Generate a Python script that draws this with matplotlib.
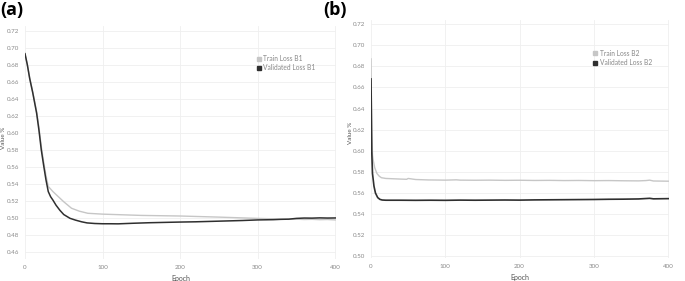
import matplotlib
matplotlib.use("Agg")
import matplotlib.pyplot as plt
from matplotlib.lines import Line2D

# ---- Panel (a) data ----
a_val_epoch = [0, 3, 6, 10, 15, 18, 21, 24, 27, 30, 33, 36, 40, 45, 50, 58, 65, 73, 80, 90,
               100, 110, 120, 140, 160, 180, 200, 220, 240, 260, 280, 300, 320, 330, 340,
               350, 360, 370, 380, 390, 400]
a_val_loss = [0.693, 0.680, 0.664, 0.647, 0.623, 0.603, 0.580, 0.562, 0.545, 0.531, 0.525,
              0.521, 0.515, 0.509, 0.504, 0.4996, 0.4975, 0.4955, 0.4942, 0.4935,
              0.4932, 0.4932, 0.4931, 0.4938, 0.4944, 0.4948, 0.4952, 0.4955, 0.4960,
              0.4965, 0.4970, 0.4977, 0.4980, 0.4984, 0.4986, 0.4995, 0.4999, 0.4998,
              0.5001, 0.4999, 0.5000]
a_train_epoch = [0, 3, 6, 10, 15, 18, 21, 24, 27, 30, 36, 43, 50, 60, 70, 81, 100, 150,
                 200, 250, 300, 320, 330, 340, 350, 360, 370, 380, 390, 400]
a_train_loss = [0.692, 0.680, 0.665, 0.648, 0.625, 0.606, 0.584, 0.566, 0.550, 0.537,
                0.531, 0.525, 0.519, 0.5114, 0.508, 0.5055, 0.5045, 0.5030, 0.5023,
                0.5010, 0.4995, 0.4990, 0.4986, 0.4984, 0.4986, 0.4982, 0.4984, 0.4980,
                0.4982, 0.4977]

# ---- Panel (b) data ----
b_train_epoch = [0, 1, 2, 3, 5, 8, 11, 14, 20, 30, 40, 48, 50, 60, 77, 90, 100, 115, 120,
                 140, 160, 180, 200, 220, 240, 260, 280, 300, 320, 340, 360, 370, 375,
                 380, 390, 400]
b_train_loss = [0.687, 0.620, 0.596, 0.591, 0.584, 0.5785, 0.576, 0.5745, 0.5738, 0.5735,
                0.5732, 0.5730, 0.5738, 0.5728, 0.5724, 0.5723, 0.5722, 0.5725, 0.5722,
                0.5721, 0.5722, 0.5720, 0.5721, 0.5719, 0.5720, 0.5718, 0.5719, 0.5717,
                0.5718, 0.5716, 0.5715, 0.5718, 0.5722, 0.5714, 0.5713, 0.5712]
b_val_epoch = [0, 1, 2, 4, 6, 9, 12, 15, 20, 40, 60, 80, 100, 120, 140, 160, 180, 200,
               220, 240, 260, 280, 300, 320, 340, 360, 375, 380, 400]
b_val_loss = [0.668, 0.600, 0.5785, 0.5665, 0.560, 0.5557, 0.554, 0.5534, 0.5532,
              0.5532, 0.5531, 0.5532, 0.5531, 0.5533, 0.5532, 0.5533, 0.5534, 0.5533,
              0.5535, 0.5536, 0.5537, 0.5538, 0.5539, 0.5541, 0.5542, 0.5544, 0.5550,
              0.5545, 0.5547]

a_yticks = [0.46, 0.48, 0.50, 0.52, 0.54, 0.56, 0.58, 0.60, 0.62, 0.64, 0.66, 0.68, 0.70, 0.72]
b_yticks = [0.50, 0.52, 0.54, 0.56, 0.58, 0.60, 0.62, 0.64, 0.66, 0.68, 0.70, 0.72]
x_ticks = [0, 100, 200, 300, 400]

TRAIN_C = "#c6c6c6"
VAL_C = "#2f2f2f"
GRID_C = "#efefef"
TICK_C = "#8a8a8a"

plt.rcParams['font.family'] = ['Lato', 'DejaVu Sans']

W, H = 685, 281
fig = plt.figure(figsize=(W / 100, H / 100), dpi=100)


def make_axes(left, right, top, bottom):
    return fig.add_axes([left / W, 1 - bottom / H, (right - left) / W, (bottom - top) / H])


ax_a = make_axes(25, 336, 26, 259)
ax_b = make_axes(371, 669, 20, 258)


def style(ax, yticks, ylim, train_lbl, val_lbl, legend_xy, ylab_x, ylab_y):
    ax.set_xlim(0, 401)
    ax.set_ylim(*ylim)
    ax.set_xticks(x_ticks)
    ax.set_yticks(yticks)
    ax.set_yticklabels([f"{v:.2f}" for v in yticks])
    ax.tick_params(axis='both', length=0, labelsize=4.5, labelcolor=TICK_C, pad=4)
    ax.grid(True, color=GRID_C, linewidth=0.6)
    ax.set_axisbelow(True)
    for s in ax.spines.values():
        s.set_visible(False)
    ax.set_xlabel("Epoch", fontsize=5, color="#555555", labelpad=4)
    fig.text(ylab_x / W, 1 - ylab_y / H, "Value %", fontsize=4.5, color="#555555",
             rotation=90, ha='center', va='center')
    handles = [Line2D([], [], marker='s', linestyle='none', color=TRAIN_C, markersize=3.5),
               Line2D([], [], marker='s', linestyle='none', color=VAL_C, markersize=3.5)]
    ax.legend(handles, [train_lbl, val_lbl], loc='upper left', bbox_to_anchor=legend_xy,
              frameon=False, fontsize=4.8, labelcolor="#888888", handlelength=0.6,
              handletextpad=0.4, borderaxespad=0, labelspacing=0.35, borderpad=0)


ax_a.plot(a_train_epoch, a_train_loss, color=TRAIN_C, linewidth=1.0)
ax_a.plot(a_val_epoch, a_val_loss, color=VAL_C, linewidth=1.1)
style(ax_a, a_yticks, (0.4518, 0.7255), "Train Loss B1", "Validated Loss B1",
      (0.745, 0.875), 4, 138)

ax_b.plot(b_train_epoch, b_train_loss, color=TRAIN_C, linewidth=1.0)
ax_b.plot(b_val_epoch, b_val_loss, color=VAL_C, linewidth=1.2)
style(ax_b, b_yticks, (0.4985, 0.7238), "Train Loss B2", "Validated Loss B2",
      (0.745, 0.875), 351, 133)

fig.text(0.0, 1 - 10 / H, "(a)", fontsize=13, fontweight='bold', va='center', ha='left',
         family=['Open Sans', 'DejaVu Sans'])
fig.text(323 / W, 1 - 10 / H, "(b)", fontsize=13, fontweight='bold', va='center', ha='left',
         family=['Open Sans', 'DejaVu Sans'])

fig.savefig("out.png", dpi=100)
